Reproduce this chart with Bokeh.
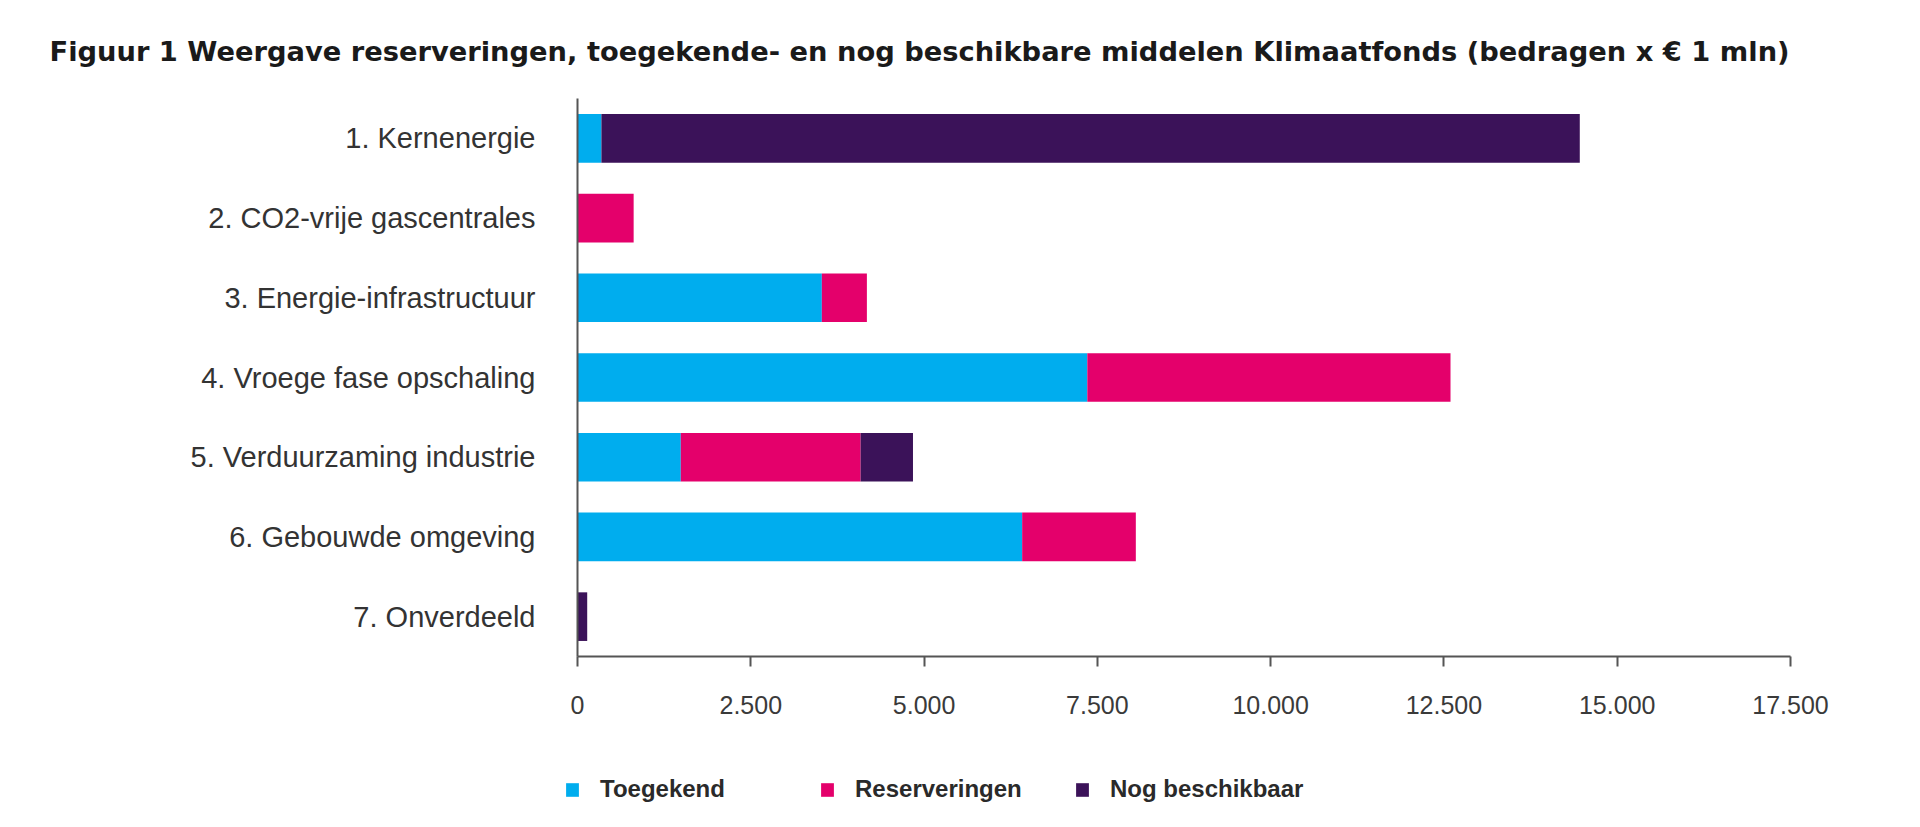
from bokeh.plotting import figure
from bokeh.models import ColumnDataSource, Range1d, FixedTicker, Legend, LegendItem, Label
from bokeh.embed import file_html
from bokeh.resources import INLINE

categories = [
    "1. Kernenergie",
    "2. CO2-vrije gascentrales",
    "3. Energie-infrastructuur",
    "4. Vroege fase opschaling",
    "5. Verduurzaming industrie",
    "6. Gebouwde omgeving",
    "7. Onverdeeld",
]
toegekend = [345, 0, 3525, 7355, 1490, 6415, 0]
reserveringen = [0, 810, 650, 5240, 2595, 1640, 0]
nog_beschikbaar = [14115, 0, 0, 0, 755, 0, 140]
series = ["Toegekend", "Reserveringen", "Nog beschikbaar"]
colors = ["#00ADEE", "#E4006B", "#3B1259"]
x_ticks = [0, 2500, 5000, 7500, 10000, 12500, 15000, 17500]
x_tick_labels = ["0", "2.500", "5.000", "7.500", "10.000", "12.500", "15.000", "17.500"]
title_text = "Figuur 1 Weergave reserveringen, toegekende- en nog beschikbare middelen Klimaatfonds (bedragen x € 1 mln)"

# category rows: first category on top
n = len(categories)
row_pos = [n - 1 - i for i in range(n)]

source = ColumnDataSource(dict(
    y=row_pos,
    Toegekend=toegekend,
    Reserveringen=reserveringen,
    **{"Nog beschikbaar": nog_beschikbaar},
))

FONT = "Liberation Sans"

# layout geometry (pixels); the plot frame covers the whole canvas
W, H = 1904, 811
ZERO_PX, AXIS_END_PX = 577, 1790   # pixel columns of x = 0 and x = 17500
TOP_PX, AXIS_Y_PX = 98, 656        # pixel rows of the top of row 1 and of the x axis
TITLE_X_PX, TITLE_Y_PX = 49, 51
x_max = x_ticks[-1]
row_px = (AXIS_Y_PX - TOP_PX) / n
ppu = (AXIS_END_PX - ZERO_PX) / x_max
y_top = n - 0.5

p = figure(
    x_range=Range1d(-ZERO_PX / ppu, x_max + (W - AXIS_END_PX) / ppu),
    y_range=Range1d(y_top - (H - TOP_PX) / row_px, y_top + TOP_PX / row_px),
    width=W, height=H,
    output_backend="svg", toolbar_location=None,
    min_border=0, min_border_left=0, min_border_right=0,
    min_border_top=0, min_border_bottom=0,
)
p.title.visible = False

renderers = p.hbar_stack(series, y="y", height=0.61, color=colors,
                         line_color=None, source=source)

# Title
p.add_layout(Label(
    x=(TITLE_X_PX - ZERO_PX) / ppu, y=y_top + (TOP_PX - TITLE_Y_PX) / row_px,
    text=title_text, text_font="DejaVu Sans", text_font_size="27.3px",
    text_font_style="bold", text_color="#1a1a1a", text_baseline="middle",
    text_align="left",
))

# X axis, drawn at the bottom of the last category row
p.xaxis.fixed_location = -0.5
p.xaxis.bounds = (0, x_max)
p.xaxis.ticker = FixedTicker(ticks=x_ticks)
p.xaxis.major_label_overrides = {t: l for t, l in zip(x_ticks, x_tick_labels)}
p.xaxis.minor_tick_line_color = None
p.xaxis.major_tick_out = 10
p.xaxis.major_tick_in = 0
p.xaxis.major_tick_line_color = "#555555"
p.xaxis.major_tick_line_width = 2
p.xaxis.axis_line_color = "#555555"
p.xaxis.axis_line_width = 2
p.xaxis.major_label_text_font = FONT
p.xaxis.major_label_text_font_size = "25px"
p.xaxis.major_label_text_color = "#3a3a3a"
p.xaxis.major_label_standoff = 29

# Y axis with category names, drawn at x = 0
p.yaxis.fixed_location = 0
p.yaxis.bounds = (-0.5, y_top)
p.yaxis.ticker = FixedTicker(ticks=row_pos)
p.yaxis.major_label_overrides = {pos: c for pos, c in zip(row_pos, categories)}
p.yaxis.axis_line_color = "#555555"
p.yaxis.axis_line_width = 2
p.yaxis.major_tick_line_color = None
p.yaxis.minor_tick_line_color = None
p.yaxis.major_label_text_font = FONT
p.yaxis.major_label_text_font_size = "29px"
p.yaxis.major_label_text_color = "#333333"
p.yaxis.major_label_standoff = 36

p.xgrid.visible = False
p.ygrid.visible = False
p.outline_line_color = None

legend = Legend(
    items=[LegendItem(label=s, renderers=[r]) for s, r in zip(series, renderers)],
    orientation="horizontal",
    location=(564, 8),
    border_line_color=None,
    background_fill_alpha=0,
    padding=0, margin=0, spacing=0,
    glyph_width=16, glyph_height=17,
    label_standoff=20, label_width=219,
    label_text_font=FONT, label_text_font_size="24px",
    label_text_font_style="bold", label_text_color="#2a2a2a",
)
p.add_layout(legend)

open("out.html", "w").write(file_html(p, INLINE))
